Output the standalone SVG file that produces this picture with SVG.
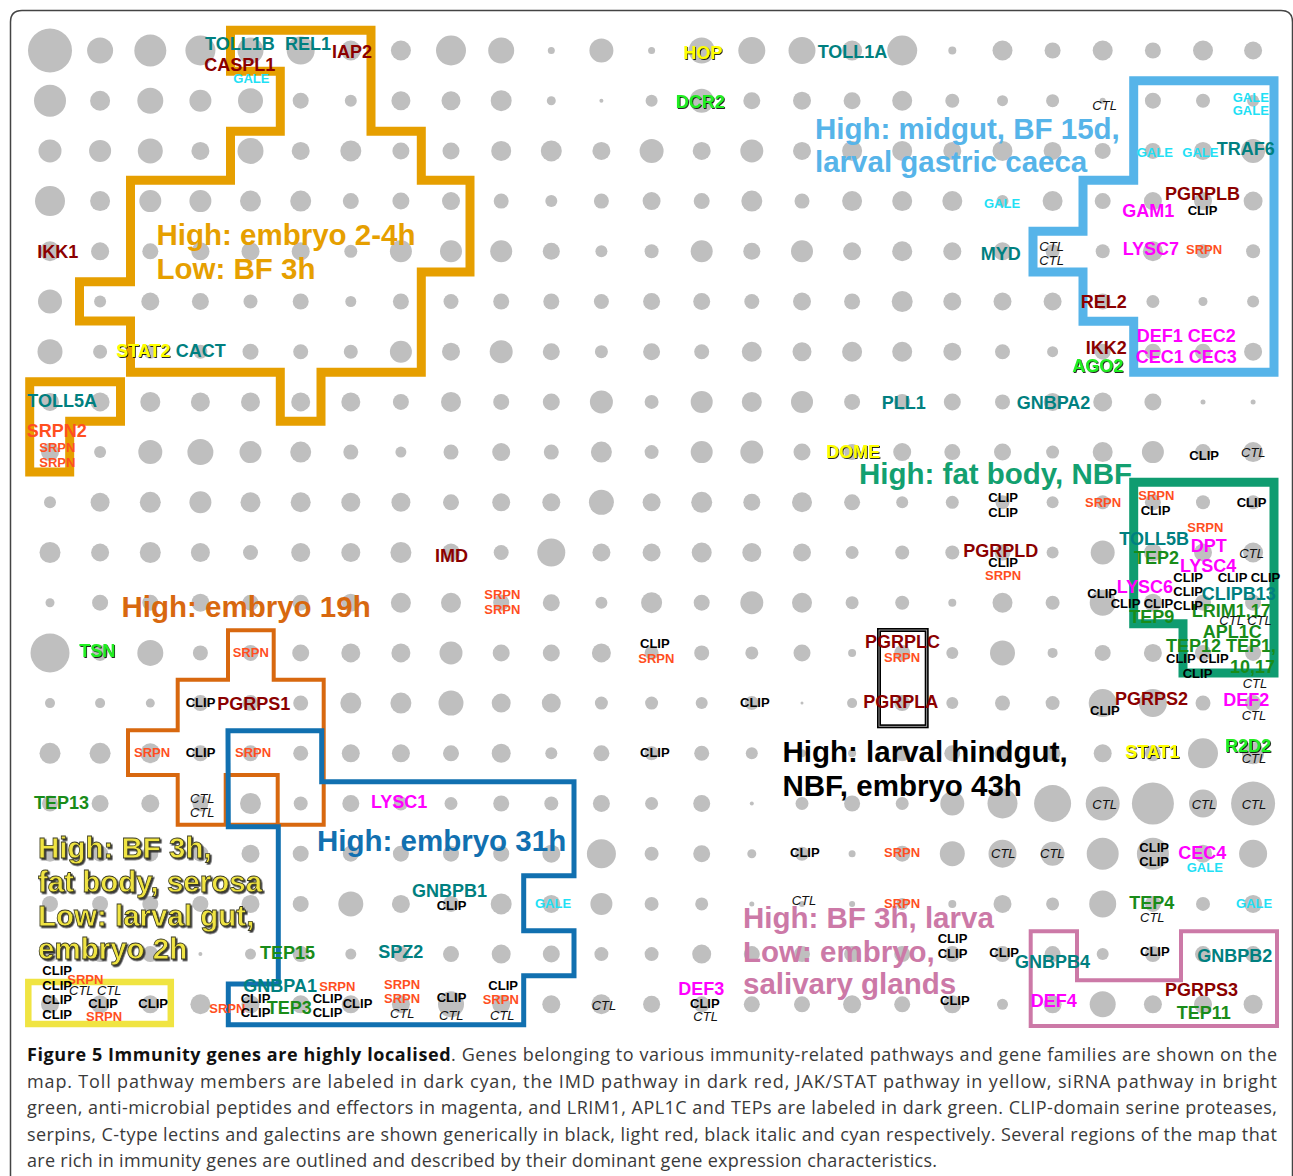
<svg xmlns="http://www.w3.org/2000/svg" width="1293" height="1176" viewBox="0 0 1293 1176">
<defs>
<filter id="sh" x="-20%" y="-30%" width="140%" height="160%"><feDropShadow dx="0.9" dy="0.9" stdDeviation="0.35" flood-color="#000" flood-opacity="0.95"/></filter>
<filter id="shb" x="-10%" y="-20%" width="120%" height="140%"><feDropShadow dx="1.6" dy="1.6" stdDeviation="0.6" flood-color="#222" flood-opacity="0.9"/></filter>
<style>
.dots circle{fill:#bfbfbf}
text{font-family:"Liberation Sans",Arial,sans-serif;font-weight:bold}
.g{font-size:18px}
.s{font-size:13px}
.tl{fill:#008080}.dr{fill:#8b0000}.ye{fill:#ffff00;filter:url(#sh)}.bg{fill:#22ee22;filter:url(#sh)}
.mg{fill:#ff00ff}.dg{fill:#198c19}.ck{fill:#000}.sp{fill:#ff4f1f}.ga{fill:#1fe0f5}
.ct{fill:#111;font-weight:normal;font-style:italic}
.rl{font-size:29.5px}
.reg{fill:none;stroke-linejoin:miter}
.cap text{font-family:"Open Sans","Liberation Sans",sans-serif;font-weight:normal;font-size:18px;fill:#3a3a3a}
.cap .b{font-weight:bold;fill:#111}
</style>
</defs>
<rect width="1293" height="1176" fill="#fff"/>
<path d="M10.5,1176 V22 Q10.5,10.5 22,10.5 H1281 Q1292.5,10.5 1292.5,22 V1176" fill="none" stroke="#444" stroke-width="1.5"/>
<g id="grid" class="dots">
<g transform="translate(0,50.5)"><circle cx="50" r="22"/><circle cx="100.1" r="13"/><circle cx="150.3" r="16"/><circle cx="200.4" r="15"/><circle cx="250.5" r="13"/><circle cx="300.7" r="14"/><circle cx="350.8" r="10"/><circle cx="400.9" r="10"/><circle cx="451" r="15"/><circle cx="501.2" r="13"/><circle cx="551.3" r="3.5"/><circle cx="601.4" r="12"/><circle cx="651.6" r="3.5"/><circle cx="701.7" r="13"/><circle cx="751.8" r="13.5"/><circle cx="802" r="13.5"/><circle cx="852.1" r="10"/><circle cx="902.2" r="15"/><circle cx="952.3" r="4"/><circle cx="1002.5" r="10"/><circle cx="1052.6" r="8"/><circle cx="1102.7" r="10"/><circle cx="1152.9" r="8"/><circle cx="1203" r="10"/><circle cx="1253.1" r="9"/></g>
<g transform="translate(0,100.7)"><circle cx="50" r="16"/><circle cx="100.1" r="10"/><circle cx="150.3" r="13"/><circle cx="200.4" r="11"/><circle cx="250.5" r="12.5"/><circle cx="300.7" r="8"/><circle cx="350.8" r="6"/><circle cx="400.9" r="9.5"/><circle cx="451" r="9.5"/><circle cx="501.2" r="10.5"/><circle cx="551.3" r="4.5"/><circle cx="601.4" r="2"/><circle cx="651.6" r="6"/><circle cx="701.7" r="12"/><circle cx="751.8" r="8.5"/><circle cx="802" r="9"/><circle cx="852.1" r="8.5"/><circle cx="902.2" r="10"/><circle cx="952.3" r="7"/><circle cx="1002.5" r="5.5"/><circle cx="1052.6" r="6.5"/><circle cx="1102.7" r="3"/><circle cx="1152.9" r="8"/><circle cx="1203" r="7"/><circle cx="1253.1" r="6"/></g>
<g transform="translate(0,150.9)"><circle cx="50" r="11.5"/><circle cx="100.1" r="11"/><circle cx="150.3" r="12.5"/><circle cx="200.4" r="9"/><circle cx="250.5" r="13"/><circle cx="300.7" r="9"/><circle cx="350.8" r="10.5"/><circle cx="400.9" r="8.5"/><circle cx="451" r="8.5"/><circle cx="501.2" r="10"/><circle cx="551.3" r="10.5"/><circle cx="601.4" r="9"/><circle cx="651.6" r="12"/><circle cx="701.7" r="9"/><circle cx="751.8" r="11.5"/><circle cx="802" r="9"/><circle cx="852.1" r="10"/><circle cx="902.2" r="10"/><circle cx="952.3" r="9"/><circle cx="1002.5" r="10"/><circle cx="1052.6" r="9"/><circle cx="1102.7" r="8"/><circle cx="1152.9" r="8"/><circle cx="1203" r="9"/><circle cx="1253.1" r="12"/></g>
<g transform="translate(0,201.1)"><circle cx="50" r="15"/><circle cx="100.1" r="10"/><circle cx="150.3" r="11"/><circle cx="200.4" r="11"/><circle cx="250.5" r="10.5"/><circle cx="300.7" r="10.5"/><circle cx="350.8" r="8"/><circle cx="400.9" r="8.5"/><circle cx="451" r="9"/><circle cx="501.2" r="7.5"/><circle cx="551.3" r="6"/><circle cx="601.4" r="7.5"/><circle cx="651.6" r="9"/><circle cx="701.7" r="8"/><circle cx="751.8" r="10.5"/><circle cx="802" r="7.5"/><circle cx="852.1" r="10"/><circle cx="902.2" r="10"/><circle cx="952.3" r="10"/><circle cx="1002.5" r="6"/><circle cx="1052.6" r="10"/><circle cx="1102.7" r="8"/><circle cx="1152.9" r="9"/><circle cx="1203" r="9"/><circle cx="1253.1" r="9.5"/></g>
<g transform="translate(0,251.3)"><circle cx="50" r="10"/><circle cx="100.1" r="9"/><circle cx="150.3" r="8"/><circle cx="200.4" r="9"/><circle cx="250.5" r="9"/><circle cx="300.7" r="9"/><circle cx="350.8" r="6.5"/><circle cx="400.9" r="11"/><circle cx="451" r="11"/><circle cx="501.2" r="11"/><circle cx="551.3" r="8.5"/><circle cx="601.4" r="6"/><circle cx="651.6" r="7"/><circle cx="701.7" r="11"/><circle cx="751.8" r="8.5"/><circle cx="802" r="11"/><circle cx="852.1" r="9"/><circle cx="902.2" r="10"/><circle cx="952.3" r="9"/><circle cx="1002.5" r="9"/><circle cx="1052.6" r="7"/><circle cx="1102.7" r="7"/><circle cx="1152.9" r="10"/><circle cx="1203" r="7"/><circle cx="1253.1" r="7"/></g>
<g transform="translate(0,301.5)"><circle cx="50" r="12"/><circle cx="100.1" r="6"/><circle cx="150.3" r="9"/><circle cx="200.4" r="8.5"/><circle cx="250.5" r="7"/><circle cx="300.7" r="8"/><circle cx="350.8" r="5.5"/><circle cx="400.9" r="8"/><circle cx="451" r="7.5"/><circle cx="501.2" r="8"/><circle cx="551.3" r="8"/><circle cx="601.4" r="7.5"/><circle cx="651.6" r="8.5"/><circle cx="701.7" r="8.5"/><circle cx="751.8" r="7.5"/><circle cx="802" r="9"/><circle cx="852.1" r="8"/><circle cx="902.2" r="10.5"/><circle cx="952.3" r="9"/><circle cx="1002.5" r="9"/><circle cx="1052.6" r="9"/><circle cx="1102.7" r="8"/><circle cx="1152.9" r="6.5"/><circle cx="1203" r="4.5"/><circle cx="1253.1" r="6"/></g>
<g transform="translate(0,351.7)"><circle cx="50" r="12.5"/><circle cx="100.1" r="7"/><circle cx="150.3" r="7"/><circle cx="200.4" r="7"/><circle cx="250.5" r="8"/><circle cx="300.7" r="7.5"/><circle cx="350.8" r="7"/><circle cx="400.9" r="11"/><circle cx="451" r="9"/><circle cx="501.2" r="11.5"/><circle cx="551.3" r="8.5"/><circle cx="601.4" r="6.5"/><circle cx="651.6" r="8.5"/><circle cx="701.7" r="7.5"/><circle cx="751.8" r="10"/><circle cx="802" r="9.5"/><circle cx="852.1" r="10"/><circle cx="902.2" r="10"/><circle cx="952.3" r="9"/><circle cx="1002.5" r="7.5"/><circle cx="1052.6" r="5.5"/><circle cx="1102.7" r="8"/><circle cx="1152.9" r="8"/><circle cx="1203" r="8"/><circle cx="1253.1" r="9"/></g>
<g transform="translate(0,401.9)"><circle cx="50" r="9"/><circle cx="100.1" r="9.5"/><circle cx="150.3" r="10"/><circle cx="200.4" r="9.5"/><circle cx="250.5" r="9.5"/><circle cx="300.7" r="9.5"/><circle cx="350.8" r="9.5"/><circle cx="400.9" r="8"/><circle cx="451" r="10"/><circle cx="501.2" r="8"/><circle cx="551.3" r="8.5"/><circle cx="601.4" r="11.5"/><circle cx="651.6" r="7"/><circle cx="701.7" r="11"/><circle cx="751.8" r="10"/><circle cx="802" r="11"/><circle cx="852.1" r="8"/><circle cx="902.2" r="8"/><circle cx="952.3" r="8.5"/><circle cx="1002.5" r="7.5"/><circle cx="1052.6" r="9"/><circle cx="1102.7" r="9.5"/><circle cx="1152.9" r="8.5"/><circle cx="1203" r="2.5"/><circle cx="1253.1" r="2.5"/></g>
<g transform="translate(0,452.1)"><circle cx="50" r="9"/><circle cx="100.1" r="6"/><circle cx="150.3" r="12"/><circle cx="200.4" r="13"/><circle cx="250.5" r="11"/><circle cx="300.7" r="10.5"/><circle cx="350.8" r="7.5"/><circle cx="400.9" r="5.5"/><circle cx="451" r="7.5"/><circle cx="501.2" r="9"/><circle cx="551.3" r="7.5"/><circle cx="601.4" r="10.5"/><circle cx="651.6" r="7"/><circle cx="701.7" r="11"/><circle cx="751.8" r="11.5"/><circle cx="802" r="8.5"/><circle cx="852.1" r="8"/><circle cx="902.2" r="9"/><circle cx="952.3" r="8"/><circle cx="1002.5" r="8.5"/><circle cx="1052.6" r="6.5"/><circle cx="1102.7" r="10"/><circle cx="1152.9" r="11"/><circle cx="1203" r="8"/><circle cx="1253.1" r="10"/></g>
<g transform="translate(0,502.3)"><circle cx="50" r="6"/><circle cx="100.1" r="9.5"/><circle cx="150.3" r="10.5"/><circle cx="200.4" r="11"/><circle cx="250.5" r="10"/><circle cx="300.7" r="10"/><circle cx="350.8" r="9.5"/><circle cx="400.9" r="9.5"/><circle cx="451" r="8"/><circle cx="501.2" r="9"/><circle cx="551.3" r="9"/><circle cx="601.4" r="12.5"/><circle cx="651.6" r="9"/><circle cx="701.7" r="10.5"/><circle cx="751.8" r="8.5"/><circle cx="802" r="10"/><circle cx="852.1" r="8"/><circle cx="902.2" r="6"/><circle cx="952.3" r="6.5"/><circle cx="1002.5" r="7"/><circle cx="1052.6" r="6"/><circle cx="1102.7" r="7"/><circle cx="1152.9" r="8"/><circle cx="1203" r="7"/><circle cx="1253.1" r="7"/></g>
<g transform="translate(0,552.5)"><circle cx="50" r="10.5"/><circle cx="100.1" r="9"/><circle cx="150.3" r="10.5"/><circle cx="200.4" r="9.5"/><circle cx="250.5" r="7.5"/><circle cx="300.7" r="9.5"/><circle cx="350.8" r="9.5"/><circle cx="400.9" r="10.5"/><circle cx="451" r="9"/><circle cx="501.2" r="7.5"/><circle cx="551.3" r="14"/><circle cx="601.4" r="9"/><circle cx="651.6" r="9"/><circle cx="701.7" r="10"/><circle cx="751.8" r="9.5"/><circle cx="802" r="9"/><circle cx="852.1" r="6.5"/><circle cx="902.2" r="7"/><circle cx="952.3" r="7"/><circle cx="1002.5" r="8"/><circle cx="1052.6" r="6"/><circle cx="1102.7" r="12"/><circle cx="1152.9" r="9"/><circle cx="1203" r="9"/><circle cx="1253.1" r="10"/></g>
<g transform="translate(0,602.7)"><circle cx="50" r="4.5"/><circle cx="100.1" r="8"/><circle cx="150.3" r="8"/><circle cx="200.4" r="9"/><circle cx="250.5" r="8"/><circle cx="300.7" r="8"/><circle cx="350.8" r="9"/><circle cx="400.9" r="10"/><circle cx="451" r="10"/><circle cx="501.2" r="8"/><circle cx="551.3" r="8.5"/><circle cx="601.4" r="6"/><circle cx="651.6" r="10.5"/><circle cx="701.7" r="8"/><circle cx="751.8" r="11.5"/><circle cx="802" r="10"/><circle cx="852.1" r="6.5"/><circle cx="902.2" r="7"/><circle cx="952.3" r="4"/><circle cx="1002.5" r="10"/><circle cx="1052.6" r="7"/><circle cx="1102.7" r="13"/><circle cx="1152.9" r="9"/><circle cx="1203" r="8"/><circle cx="1253.1" r="8"/></g>
<g transform="translate(0,652.9)"><circle cx="50" r="19.5"/><circle cx="100.1" r="8"/><circle cx="150.3" r="13"/><circle cx="200.4" r="7.5"/><circle cx="250.5" r="8"/><circle cx="300.7" r="8.5"/><circle cx="350.8" r="9.5"/><circle cx="400.9" r="9.5"/><circle cx="451" r="11.5"/><circle cx="501.2" r="8.5"/><circle cx="551.3" r="8.5"/><circle cx="601.4" r="9.5"/><circle cx="651.6" r="7"/><circle cx="701.7" r="7.5"/><circle cx="751.8" r="6.5"/><circle cx="802" r="8.5"/><circle cx="852.1" r="4"/><circle cx="902.2" r="8"/><circle cx="952.3" r="6"/><circle cx="1002.5" r="12.5"/><circle cx="1052.6" r="5"/><circle cx="1102.7" r="8"/><circle cx="1152.9" r="9"/><circle cx="1203" r="8"/><circle cx="1253.1" r="8"/></g>
<g transform="translate(0,703.1)"><circle cx="50" r="5"/><circle cx="100.1" r="5"/><circle cx="150.3" r="4.5"/><circle cx="200.4" r="8"/><circle cx="250.5" r="8"/><circle cx="300.7" r="7.5"/><circle cx="350.8" r="10.5"/><circle cx="400.9" r="10.5"/><circle cx="451" r="12.5"/><circle cx="501.2" r="9.5"/><circle cx="551.3" r="9.5"/><circle cx="601.4" r="6.5"/><circle cx="651.6" r="6.5"/><circle cx="701.7" r="6"/><circle cx="751.8" r="7"/><circle cx="802" r="1.5"/><circle cx="852.1" r="5"/><circle cx="902.2" r="8"/><circle cx="952.3" r="6"/><circle cx="1002.5" r="7.5"/><circle cx="1052.6" r="7"/><circle cx="1102.7" r="14"/><circle cx="1152.9" r="14"/><circle cx="1203" r="7.5"/><circle cx="1253.1" r="8"/></g>
<g transform="translate(0,753.3)"><circle cx="50" r="10.5"/><circle cx="100.1" r="10.5"/><circle cx="150.3" r="10"/><circle cx="200.4" r="8"/><circle cx="250.5" r="8"/><circle cx="300.7" r="7.5"/><circle cx="350.8" r="9"/><circle cx="400.9" r="9"/><circle cx="451" r="8"/><circle cx="501.2" r="9.5"/><circle cx="551.3" r="6"/><circle cx="601.4" r="8"/><circle cx="651.6" r="7"/><circle cx="701.7" r="7.5"/><circle cx="751.8" r="6"/><circle cx="802" r="4"/><circle cx="852.1" r="4"/><circle cx="902.2" r="8"/><circle cx="952.3" r="8"/><circle cx="1002.5" r="8"/><circle cx="1052.6" r="8"/><circle cx="1102.7" r="9"/><circle cx="1152.9" r="8"/><circle cx="1203" r="15"/><circle cx="1253.1" r="11"/></g>
<g transform="translate(0,803.5)"><circle cx="50" r="8"/><circle cx="100.1" r="8.5"/><circle cx="150.3" r="9"/><circle cx="200.4" r="8"/><circle cx="250.5" r="10.5"/><circle cx="300.7" r="7"/><circle cx="350.8" r="8.5"/><circle cx="400.9" r="7"/><circle cx="451" r="6.5"/><circle cx="501.2" r="8"/><circle cx="551.3" r="7"/><circle cx="601.4" r="8.5"/><circle cx="651.6" r="6.5"/><circle cx="701.7" r="8.5"/><circle cx="751.8" r="2"/><circle cx="802" r="6.5"/><circle cx="852.1" r="8"/><circle cx="902.2" r="6.5"/><circle cx="952.3" r="12"/><circle cx="1002.5" r="15"/><circle cx="1052.6" r="18.5"/><circle cx="1102.7" r="17"/><circle cx="1152.9" r="21"/><circle cx="1203" r="14"/><circle cx="1253.1" r="22"/></g>
<g transform="translate(0,853.7)"><circle cx="50" r="8"/><circle cx="100.1" r="8"/><circle cx="150.3" r="8"/><circle cx="200.4" r="8"/><circle cx="250.5" r="9"/><circle cx="300.7" r="8"/><circle cx="350.8" r="8"/><circle cx="400.9" r="8"/><circle cx="451" r="8"/><circle cx="501.2" r="8"/><circle cx="551.3" r="9"/><circle cx="601.4" r="14.5"/><circle cx="651.6" r="7"/><circle cx="701.7" r="8.5"/><circle cx="751.8" r="4.5"/><circle cx="802" r="7"/><circle cx="852.1" r="3.5"/><circle cx="902.2" r="8"/><circle cx="952.3" r="12.5"/><circle cx="1002.5" r="14"/><circle cx="1052.6" r="12"/><circle cx="1102.7" r="16"/><circle cx="1152.9" r="16"/><circle cx="1203" r="9"/><circle cx="1253.1" r="14"/></g>
<g transform="translate(0,903.9)"><circle cx="50" r="8"/><circle cx="100.1" r="8"/><circle cx="150.3" r="8"/><circle cx="200.4" r="8"/><circle cx="250.5" r="9"/><circle cx="300.7" r="8"/><circle cx="350.8" r="12.5"/><circle cx="400.9" r="9"/><circle cx="451" r="8"/><circle cx="501.2" r="10.5"/><circle cx="551.3" r="9"/><circle cx="601.4" r="11"/><circle cx="651.6" r="7"/><circle cx="701.7" r="6.5"/><circle cx="751.8" r="2.5"/><circle cx="802" r="3"/><circle cx="852.1" r="3"/><circle cx="902.2" r="6"/><circle cx="952.3" r="4"/><circle cx="1002.5" r="9"/><circle cx="1052.6" r="6.5"/><circle cx="1102.7" r="13.5"/><circle cx="1152.9" r="8"/><circle cx="1203" r="7"/><circle cx="1253.1" r="9"/></g>
<g transform="translate(0,954.1)"><circle cx="50" r="8"/><circle cx="100.1" r="8"/><circle cx="150.3" r="8"/><circle cx="200.4" r="2"/><circle cx="250.5" r="5.5"/><circle cx="300.7" r="8"/><circle cx="350.8" r="5.5"/><circle cx="400.9" r="8"/><circle cx="451" r="8"/><circle cx="501.2" r="9.5"/><circle cx="551.3" r="8.5"/><circle cx="601.4" r="7"/><circle cx="651.6" r="7"/><circle cx="701.7" r="9.5"/><circle cx="751.8" r="8"/><circle cx="802" r="8"/><circle cx="852.1" r="8"/><circle cx="902.2" r="8"/><circle cx="952.3" r="8"/><circle cx="1002.5" r="8"/><circle cx="1052.6" r="8"/><circle cx="1102.7" r="6"/><circle cx="1152.9" r="8"/><circle cx="1203" r="8"/><circle cx="1253.1" r="8"/></g>
<g transform="translate(0,1004.3)"><circle cx="50" r="9"/><circle cx="100.1" r="9"/><circle cx="150.3" r="9"/><circle cx="200.4" r="10"/><circle cx="250.5" r="9"/><circle cx="300.7" r="9"/><circle cx="350.8" r="9"/><circle cx="400.9" r="9"/><circle cx="451" r="13"/><circle cx="501.2" r="9"/><circle cx="551.3" r="9"/><circle cx="601.4" r="10"/><circle cx="651.6" r="8.5"/><circle cx="701.7" r="8"/><circle cx="751.8" r="8"/><circle cx="802" r="8"/><circle cx="852.1" r="9"/><circle cx="902.2" r="8"/><circle cx="952.3" r="9"/><circle cx="1002.5" r="5.5"/><circle cx="1052.6" r="9"/><circle cx="1102.7" r="13"/><circle cx="1152.9" r="9"/><circle cx="1203" r="9"/><circle cx="1253.1" r="9.5"/></g>
</g>
<g id="regions" class="reg">
<path id="r-embryo24" d="M230.5,30.3 H371 V131.3 H421.3 V180.3 H470 V272 H421.3 V372.3 H321 V421.3 H280.3 V372.3 H130.5 V321 H79.5 V281.7 H130.5 V180.3 H230.5 V131.3 H280.3 V71.2 H230.5 Z" stroke="#e69f00" stroke-width="9"/>
<path id="r-toll5a" d="M29.7,381.7 H120.5 V421.3 H69.7 V472 H29.7 Z" stroke="#e69f00" stroke-width="9"/>
<path id="r-midgut" d="M1133.7,80.7 H1274 V372.3 H1133.7 V321.3 H1083 V272 H1033 V231.3 H1083 V180.3 H1133.7 Z" stroke="#56b4e9" stroke-width="9"/>
<path id="r-fatbody" d="M1133.7,482.3 H1274 V673 H1183 V623.7 H1133.7 Z" stroke="#0f9c70" stroke-width="9"/>
<g id="r-hindgut"><rect x="879" y="630" width="47.7" height="96.3" stroke="#000" stroke-width="4"/><rect x="879" y="630" width="47.7" height="96.3" stroke="#bbb" stroke-width="0.8"/></g>
<g id="r-embryo19" stroke="#d8680f" stroke-width="4"><path d="M228,630.3 H273.7 V679.7 H323.7 V824.7 H177.7 V775 H128 V730.3 H177.7 V679.7 H228 Z"/><path d="M225.7,824.7 V775 H277.7 V824.7"/></g>
<path id="r-embryo31" d="M228,730.7 H321.7 V781.7 H574 V875.7 H523.7 V930.7 H574 V975.7 H523.7 V1024.7 H228.3 V984 H278.3 V826.7 H228.3 Z" stroke="#1170b0" stroke-width="5"/>
<rect id="r-bf3h" x="28.3" y="982" width="142.5" height="42" stroke="#f0e442" stroke-width="6.5"/>
<path id="r-salivary" d="M1030.7,931.3 H1077 V980.3 H1181 V931.3 H1277 V1026 H1030.7 Z" stroke="#cc79a7" stroke-width="4"/>
</g>
<g id="region-labels" class="rl">
<text x="156.5" y="245" fill="#e69f00">High: embryo 2-4h</text>
<text x="156.5" y="278.5" fill="#e69f00">Low: BF 3h</text>
<text x="815" y="139" fill="#56b4e9">High: midgut, BF 15d,</text>
<text x="815" y="172" fill="#56b4e9">larval gastric caeca</text>
<text x="859" y="484" fill="#13a070">High: fat body, NBF</text>
<text x="121.5" y="617" fill="#d8680f">High: embryo 19h</text>
<text x="317" y="851" fill="#1170b0">High: embryo 31h</text>
<text x="782.5" y="762" fill="#000">High: larval hindgut,</text>
<text x="782.5" y="795.5" fill="#000">NBF, embryo 43h</text>
<g fill="#f0e442" stroke="#3a3a20" stroke-width="0.8" filter="url(#shb)"><text x="38" y="858">High: BF 3h,</text><text x="38" y="892">fat body, serosa</text><text x="38" y="926">Low: larval gut,</text><text x="38" y="959">embryo 2h</text></g>
<text x="743" y="928" fill="#cc79a7">High: BF 3h, larva</text>
<text x="743" y="962" fill="#cc79a7">Low: embryo,</text>
<text x="743" y="994" fill="#cc79a7">salivary glands</text>
</g>
<g id="genes">
<g class="g">
<text x="205" y="50" class="tl">TOLL1B</text><text x="285" y="50" class="tl">REL1</text><text x="332" y="58.3" class="dr">IAP2</text><text x="204.3" y="70.7" class="dr">CASPL1</text>
<text x="37.3" y="258.3" class="dr">IKK1</text><text x="116" y="357" class="ye">STAT2</text><text x="175.7" y="357" class="tl">CACT</text>
<text x="683.3" y="59.3" class="ye">HOP</text><text x="675.7" y="108.3" class="bg">DCR2</text><text x="817.7" y="57.7" class="tl">TOLL1A</text>
<text x="1216.7" y="155" class="tl">TRAF6</text><text x="1165" y="200" class="dr">PGRPLB</text><text x="1122.3" y="217.3" class="mg">GAM1</text>
<text x="980.7" y="260" class="tl">MYD</text><text x="1122.7" y="255" class="mg">LYSC7</text><text x="1080.7" y="308.3" class="dr">REL2</text>
<text x="1136.7" y="342.3" class="mg">DEF1 CEC2</text><text x="1085.7" y="354" class="dr">IKK2</text><text x="1135.7" y="363.3" class="mg">CEC1 CEC3</text><text x="1072.3" y="371.7" class="bg">AGO2</text>
<text x="881.7" y="409.3" class="tl">PLL1</text><text x="1016.7" y="409.3" class="tl">GNBPA2</text><text x="826" y="458.3" class="ye">DOME</text>
<text x="27.3" y="406.7" class="tl">TOLL5A</text><text x="26.7" y="436.7" class="sp">SRPN2</text>
<text x="435" y="561.7" class="dr">IMD</text><text x="963.3" y="557.3" class="dr">PGRPLD</text>
<text x="1119.3" y="545" class="tl">TOLL5B</text><text x="1190.7" y="551.7" class="mg">DPT</text><text x="1134" y="564.3" class="dg">TEP2</text><text x="1180" y="572.3" class="mg">LYSC4</text>
<text x="1116.7" y="593.3" class="mg">LYSC6</text><text x="1201.7" y="600" class="tl">CLIPB13</text><text x="1129.3" y="623.3" class="dg">TEP9</text><text x="1191.7" y="616.7" class="dg">LRIM1,17</text>
<text x="1202.7" y="637.7" class="dg">APL1C</text><text x="1166" y="652.3" class="dg">TEP12 TEP1,</text><text x="1230" y="673.3" class="dg">10,17</text>
<text x="865" y="648.3" class="dr">PGRPLC</text><text x="79.3" y="656.7" class="bg">TSN</text>
<text x="217.3" y="710" class="dr">PGRPS1</text><text x="34" y="809" class="dg">TEP13</text><text x="371" y="808.3" class="mg">LYSC1</text>
<text x="863.3" y="707.7" class="dr">PGRPLA</text><text x="1115" y="705" class="dr">PGRPS2</text><text x="1223.3" y="705.7" class="mg">DEF2</text>
<text x="1125" y="757.7" class="ye">STAT1</text><text x="1225" y="751.7" class="bg">R2D2</text>
<text x="1178.3" y="859" class="mg">CEC4</text><text x="412" y="896.7" class="tl">GNBPB1</text><text x="1129.3" y="909" class="dg">TEP4</text>
<text x="260" y="959" class="dg">TEP15</text><text x="378.3" y="958.3" class="tl">SPZ2</text>
<text x="1015" y="968.3" class="tl">GNBPB4</text><text x="1197.3" y="962.3" class="tl">GNBPB2</text>
<text x="243.3" y="991.7" class="tl">GNBPA1</text><text x="266.7" y="1014.3" class="dg">TEP3</text><text x="678.3" y="995" class="mg">DEF3</text>
<text x="1165" y="995.7" class="dr">PGRPS3</text><text x="1176.7" y="1019" class="dg">TEP11</text><text x="1030.7" y="1006.7" class="mg">DEF4</text>
</g>
<g class="s">
<text x="233.3" y="82.7" class="ga">GALE</text>
<text x="1092.3" y="110" class="ct">CTL</text><text x="1232.7" y="101.7" class="ga">GALE</text><text x="1232.7" y="115" class="ga">GALE</text>
<text x="1136.7" y="157.3" class="ga">GALE</text><text x="1182.3" y="157.3" class="ga">GALE</text>
<text x="1187.7" y="215" class="ck">CLIP</text><text x="984" y="208.3" class="ga">GALE</text>
<text x="1039.3" y="250.7" class="ct">CTL</text><text x="1039.3" y="265" class="ct">CTL</text><text x="1186" y="254" class="sp">SRPN</text>
<text x="39.3" y="451.7" class="sp">SRPN</text><text x="39.3" y="466.7" class="sp">SRPN</text>
<text x="1189.3" y="460" class="ck">CLIP</text><text x="1241" y="456.7" class="ct">CTL</text>
<text x="988.3" y="501.7" class="ck">CLIP</text><text x="988.3" y="516.7" class="ck">CLIP</text><text x="1085" y="506.7" class="sp">SRPN</text>
<text x="1138.3" y="500" class="sp">SRPN</text><text x="1140.7" y="515" class="ck">CLIP</text><text x="1236.7" y="506.7" class="ck">CLIP</text>
<text x="1187.3" y="531.7" class="sp">SRPN</text><text x="1239.3" y="557.7" class="ct">CTL</text>
<text x="988.3" y="566.7" class="ck">CLIP</text><text x="985" y="580" class="sp">SRPN</text>
<text x="1173.3" y="581.7" class="ck">CLIP</text><text x="1217.7" y="581.7" class="ck">CLIP CLIP</text>
<text x="1087.3" y="597.7" class="ck">CLIP</text><text x="1173.3" y="595.7" class="ck">CLIP</text>
<text x="1110.7" y="607.7" class="ck">CLIP CLIP</text><text x="1173.3" y="610" class="ck">CLIP</text>
<text x="1219.3" y="625" class="ct">CTL CTL</text>
<text x="1166" y="663.3" class="ck">CLIP CLIP</text><text x="1182.7" y="677.7" class="ck">CLIP</text><text x="1242.7" y="687.7" class="ct">CTL</text>
<text x="884" y="661.7" class="sp">SRPN</text>
<text x="484.3" y="599" class="sp">SRPN</text><text x="484.3" y="614" class="sp">SRPN</text>
<text x="640" y="648.3" class="ck">CLIP</text><text x="638.3" y="663.3" class="sp">SRPN</text>
<text x="232.7" y="656.7" class="sp">SRPN</text>
<text x="185.7" y="706.7" class="ck">CLIP</text>
<text x="134" y="756.7" class="sp">SRPN</text><text x="185.7" y="756.7" class="ck">CLIP</text><text x="235" y="756.7" class="sp">SRPN</text>
<text x="190" y="803.3" class="ct">CTL</text><text x="190" y="816.7" class="ct">CTL</text>
<text x="740" y="706.7" class="ck">CLIP</text><text x="640" y="756.7" class="ck">CLIP</text>
<text x="1090" y="715" class="ck">CLIP</text><text x="1241.7" y="720" class="ct">CTL</text><text x="1241.7" y="763.3" class="ct">CTL</text>
<text x="1092.3" y="809" class="ct">CTL</text><text x="1191.7" y="809" class="ct">CTL</text><text x="1241.7" y="809" class="ct">CTL</text>
<text x="790" y="856.7" class="ck">CLIP</text><text x="884" y="856.7" class="sp">SRPN</text>
<text x="991" y="858.3" class="ct">CTL</text><text x="1040" y="858.3" class="ct">CTL</text>
<text x="1139.3" y="851.7" class="ck">CLIP</text><text x="1139.3" y="865.7" class="ck">CLIP</text><text x="1186.7" y="872.3" class="ga">GALE</text>
<text x="436.7" y="910" class="ck">CLIP</text><text x="535" y="908.3" class="ga">GALE</text>
<text x="791.7" y="905" class="ct">CTL</text><text x="884" y="907.7" class="sp">SRPN</text>
<text x="1140" y="921.7" class="ct">CTL</text><text x="1236" y="907.7" class="ga">GALE</text>
<text x="937.7" y="943.3" class="ck">CLIP</text><text x="937.7" y="958.3" class="ck">CLIP</text><text x="989.3" y="956.7" class="ck">CLIP</text>
<text x="1140" y="955.7" class="ck">CLIP</text><text x="940" y="1005" class="ck">CLIP</text>
<text x="42.3" y="975" class="ck">CLIP</text><text x="67.3" y="984" class="sp">SRPN</text><text x="42.3" y="990" class="ck">CLIP</text>
<text x="69" y="995" class="ct">CTL CTL</text><text x="42.3" y="1004.3" class="ck">CLIP</text>
<text x="88.3" y="1008.3" class="ck">CLIP</text><text x="138.3" y="1008.3" class="ck">CLIP</text>
<text x="42.3" y="1019.3" class="ck">CLIP</text><text x="86" y="1021" class="sp">SRPN</text>
<text x="209.3" y="1012.7" class="sp">SRPN</text><text x="319.3" y="991" class="sp">SRPN</text>
<text x="240.7" y="1002.7" class="ck">CLIP</text><text x="240.7" y="1016.7" class="ck">CLIP</text>
<text x="312.7" y="1002.7" class="ck">CLIP</text><text x="312.7" y="1016.7" class="ck">CLIP</text><text x="342.7" y="1008.3" class="ck">CLIP</text>
<text x="384" y="989.3" class="sp">SRPN</text><text x="384" y="1003.3" class="sp">SRPN</text><text x="390" y="1018.3" class="ct">CTL</text>
<text x="436.7" y="1001.7" class="ck">CLIP</text><text x="439" y="1020" class="ct">CTL</text>
<text x="488.3" y="990" class="ck">CLIP</text><text x="482.7" y="1004.3" class="sp">SRPN</text><text x="490" y="1020" class="ct">CTL</text>
<text x="591.7" y="1010" class="ct">CTL</text>
<text x="690" y="1008.3" class="ck">CLIP</text><text x="693.3" y="1021" class="ct">CTL</text>
</g>
</g>
<g id="caption" class="cap">
<text x="27" y="1061" textLength="1250" lengthAdjust="spacing"><tspan class="b">Figure 5 Immunity genes are highly localised</tspan>. Genes belonging to various immunity-related pathways and gene families are shown on the</text>
<text x="27" y="1088" textLength="1250" lengthAdjust="spacing">map. Toll pathway members are labeled in dark cyan, the IMD pathway in dark red, JAK/STAT pathway in yellow, siRNA pathway in bright</text>
<text x="27" y="1114" textLength="1250" lengthAdjust="spacing">green, anti-microbial peptides and effectors in magenta, and LRIM1, APL1C and TEPs are labeled in dark green. CLIP-domain serine proteases,</text>
<text x="27" y="1141" textLength="1250" lengthAdjust="spacing">serpins, C-type lectins and galectins are shown generically in black, light red, black italic and cyan respectively. Several regions of the map that</text>
<text x="27" y="1167" textLength="910" lengthAdjust="spacing">are rich in immunity genes are outlined and described by their dominant gene expression characteristics.</text>
</g>
</svg>
